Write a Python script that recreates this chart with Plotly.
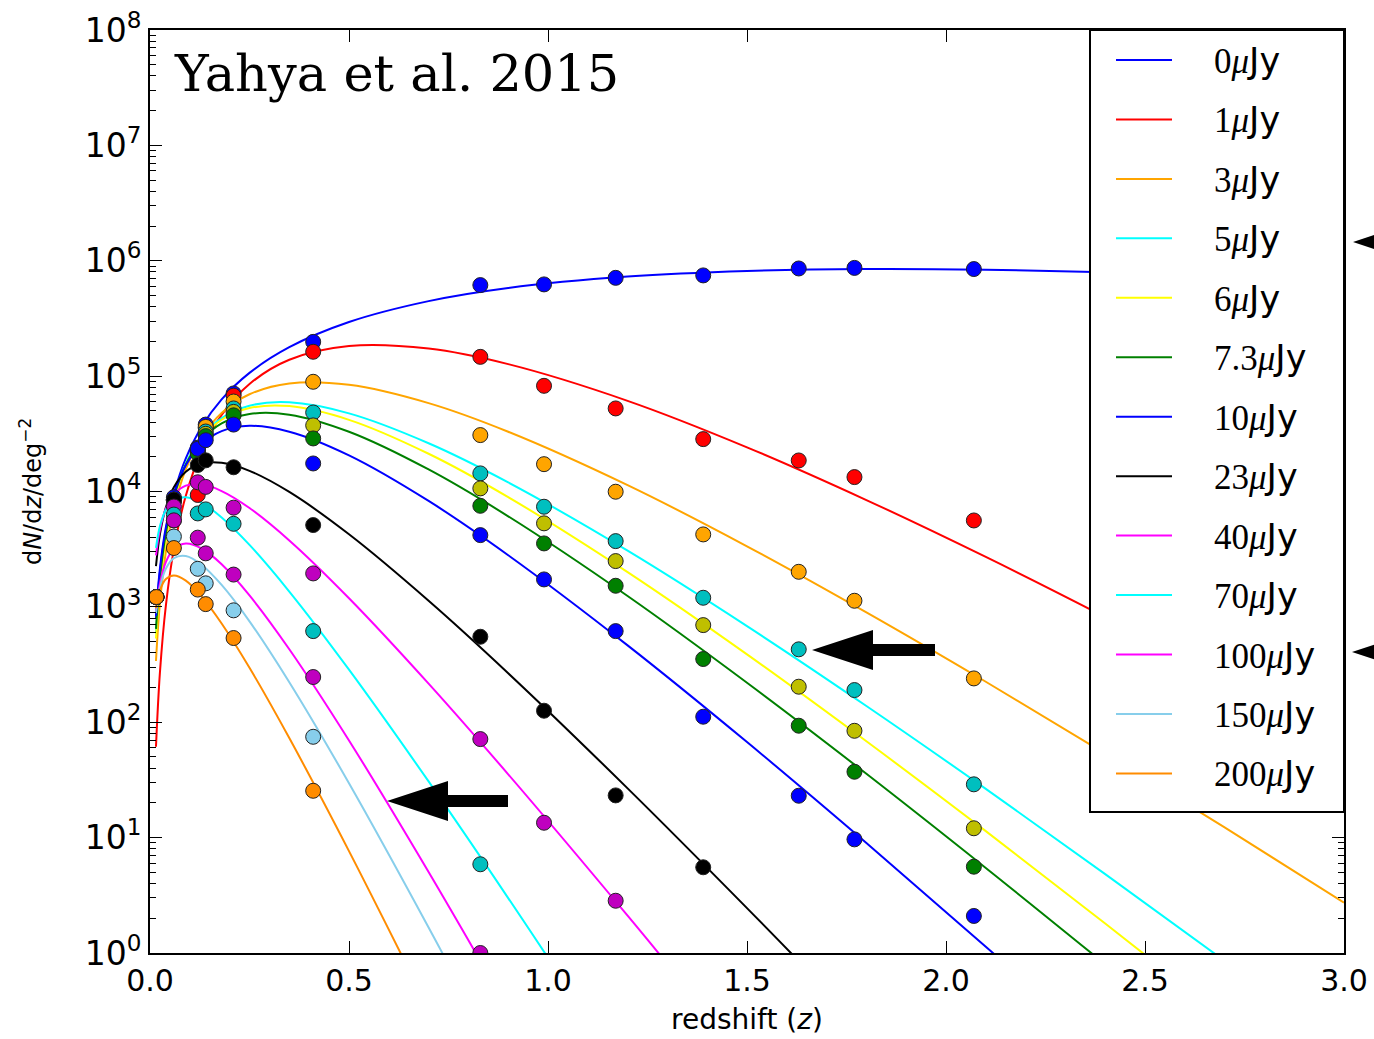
import plotly.graph_objects as go

# ---------------- data ----------------
labels = ["0", "1", "3", "5", "6", "7.3", "10", "23", "40", "70", "100", "150", "200"]
line_colors = ["#0000ff", "#ff0000", "#ffa500", "#00ffff", "#ffff00", "#008000", "#0000ff",
               "#000000", "#ff00ff", "#00ffff", "#ff00ff", "#87ceeb", "#ff8c00"]
dot_colors = ["#0000ff", "#ff0000", "#ffa500", "#00bfbf", "#bfbf00", "#008000", "#0000ff",
              "#000000", "#bf00bf", "#00bfbf", "#bf00bf", "#87ceeb", "#ff8c00"]

# simulation points (log10 dN/dz), redshift bins
z_bins = [0.016, 0.06, 0.12, 0.14, 0.21, 0.41, 0.83, 0.99, 1.17, 1.39, 1.63, 1.77, 2.07]
dots_0 = [3.085, 3.95, 4.38, 4.58, 4.85, 5.297, 5.789, 5.795, 5.852, 5.873, 5.933, 5.938, 5.928]
dots_1 = [3.085, 3.75, 3.97, 4.55, 4.83, 5.211, 5.167, 4.916, 4.720, 4.454, 4.269, 4.125, 3.749]
dots_3 = [3.085, 3.92, 4.36, 4.56, 4.78, 4.951, 4.489, 4.237, 3.998, 3.628, 3.304, 3.053, 2.380]
dots_5 = [3.085, 3.93, 4.35, 4.52, 4.72, 4.685, 4.157, 3.868, 3.570, 3.079, 2.632, 2.279, 1.462]
dots_6 = [3.085, 3.92, 4.34, 4.50, 4.69, 4.573, 4.027, 3.724, 3.397, 2.842, 2.308, 1.926, 1.081]
dots_7p3 = [3.085, 3.92, 4.33, 4.48, 4.66, 4.460, 3.876, 3.550, 3.183, 2.548, 1.970, 1.571, 0.748]
dots_10 = [3.085, 3.93, 4.37, 4.445, 4.58, 4.243, 3.622, 3.238, 2.790, 2.048, 1.363, 0.985, 0.321]
dots_23 = [3.085, 3.93, 4.23, 4.27, 4.21, 3.709, 2.741, 2.100, 1.366, 0.743]
dots_40 = [3.085, 3.87, 4.08, 4.04, 3.86, 3.290, 1.854, 1.129, 0.453]
dots_70 = [3.085, 3.80, 3.81, 3.845, 3.72, 2.790, 0.769]
dots_100 = [3.085, 3.75, 3.60, 3.464, 3.28, 2.392, 0.0]
dots_150 = [3.085, 3.61, 3.33, 3.204, 2.97, 1.874]
dots_200 = [3.085, 3.51, 3.15, 3.024, 2.73, 1.406]

# fitted curves (log10 dN/dz) read at these redshifts
z_curve = [0.015, 0.025, 0.04, 0.06, 0.09, 0.13, 0.18, 0.25, 0.35, 0.5, 0.7, 0.9,
           1.2, 1.5, 1.8, 2.1, 2.4, 2.7, 3.0]
curve_0 = [2.904, 3.304, 3.669, 3.981, 4.288, 4.562, 4.798, 5.028, 5.251, 5.469, 5.650, 5.764,
           5.863, 5.912, 5.929, 5.923, 5.901, 5.866, 5.822]
curve_1 = [1.787, 2.434, 3.016, 3.501, 3.963, 4.353, 4.664, 4.932, 5.142, 5.261, 5.239, 5.104,
           4.786, 4.383, 3.926, 3.433, 2.912, 2.371, 1.813]
curve_3 = [2.531, 3.034, 3.482, 3.850, 4.193, 4.471, 4.681, 4.843, 4.937, 4.925, 4.766, 4.518,
           4.055, 3.525, 2.952, 2.351, 1.728, 1.089, 0.437]
curve_5 = [2.769, 3.221, 3.621, 3.946, 4.242, 4.473, 4.636, 4.744, 4.773, 4.677, 4.418, 4.079,
           3.487, 2.833, 2.141, 1.423, 0.684, -0.068]
curve_6 = [2.726, 3.190, 3.599, 3.930, 4.229, 4.461, 4.622, 4.723, 4.740, 4.621, 4.327, 3.951,
           3.301, 2.588, 1.835, 1.056, 0.256, -0.559]
curve_7p3 = [2.809, 3.252, 3.641, 3.954, 4.234, 4.448, 4.591, 4.672, 4.666, 4.518, 4.191, 3.785,
             3.094, 2.342, 1.553, 0.737, -0.098]
curve_10 = [2.922, 3.334, 3.692, 3.977, 4.228, 4.411, 4.523, 4.569, 4.518, 4.313, 3.918, 3.448,
            2.666, 1.828, 0.954, 0.055, -0.861]
curve_23 = [3.353, 3.631, 3.864, 4.038, 4.172, 4.243, 4.249, 4.179, 3.996, 3.629, 3.053, 2.425,
            1.427, 0.389, -0.674]
curve_40 = [3.446, 3.671, 3.851, 3.974, 4.051, 4.062, 4.004, 3.857, 3.576, 3.075, 2.335, 1.549,
            0.323, -0.938]
curve_70 = [3.511, 3.700, 3.842, 3.924, 3.950, 3.901, 3.775, 3.537, 3.133, 2.456, 1.487, 0.476,
            -1.083]
curve_100 = [2.957, 3.203, 3.390, 3.504, 3.550, 3.506, 3.369, 3.099, 2.633, 1.842, 0.702, -0.489]
curve_150 = [2.946, 3.169, 3.332, 3.422, 3.440, 3.363, 3.190, 2.875, 2.347, 1.471, 0.221, -1.077]
curve_200 = [2.989, 3.144, 3.242, 3.273, 3.228, 3.089, 2.856, 2.472, 1.863, 0.883, -0.487]

all_dots = [dots_0, dots_1, dots_3, dots_5, dots_6, dots_7p3, dots_10, dots_23, dots_40,
            dots_70, dots_100, dots_150, dots_200]
all_curves = [curve_0, curve_1, curve_3, curve_5, curve_6, curve_7p3, curve_10, curve_23,
              curve_40, curve_70, curve_100, curve_150, curve_200]

x_ticks = [0.0, 0.5, 1.0, 1.5, 2.0, 2.5, 3.0]
y_tick_exponents = [0, 1, 2, 3, 4, 5, 6, 7, 8]

# ---------------- layout geometry ----------------
W, H = 1374, 1039
L, R, T, B = 150, 1344, 30, 953


def px(x):
    return (x - L) / (R - L)


def py(y):
    return (B - y) / (B - T)


fig = go.Figure()

for lab, col, cv in zip(labels, line_colors, all_curves):
    zz = z_curve[:len(cv)]
    fig.add_trace(go.Scatter(
        x=zz, y=[10 ** v for v in cv], mode="lines",
        line=dict(color=col, width=2, shape="spline", smoothing=1.0),
        name=lab + "μJy", showlegend=False, hoverinfo="skip"))

for lab, col, dv in zip(labels, dot_colors, all_dots):
    zz = z_bins[:len(dv)]
    fig.add_trace(go.Scatter(
        x=zz, y=[10 ** v for v in dv], mode="markers",
        marker=dict(color=col, size=15, line=dict(color="#222222", width=1)),
        name=lab + "μJy points", showlegend=False))

shapes = []
annotations = []

# legend box (drawn by hand)
shapes.append(dict(type="rect", xref="paper", yref="paper",
                   x0=px(1090), x1=px(1344), y0=py(812), y1=py(30),
                   fillcolor="white", line=dict(color="black", width=2), layer="above"))
row0, step = 60.0, 59.45
for i, (lab, col) in enumerate(zip(labels, line_colors)):
    yy = row0 + i * step
    shapes.append(dict(type="line", xref="paper", yref="paper",
                       x0=px(1116), x1=px(1172), y0=py(yy), y1=py(yy),
                       line=dict(color=col, width=2), layer="above"))
    annotations.append(dict(
        xref="paper", yref="paper", x=px(1212), y=py(yy + 1), xanchor="left", yanchor="middle",
        showarrow=False,
        text="<span style='font-family:Liberation Serif'>" + lab + "<i>μ</i></span>Jy",
        font=dict(family="DejaVu Sans", size=35, color="black")))


def arrow_path(tx, ty, head_len, head_half, shaft_end, shaft_half):
    pts = [(tx, ty), (tx + head_len, ty - head_half), (tx + head_len, ty - shaft_half),
           (shaft_end, ty - shaft_half), (shaft_end, ty + shaft_half),
           (tx + head_len, ty + shaft_half), (tx + head_len, ty + head_half)]
    s = "M " + " L ".join(f"{px(a):.5f},{py(b):.5f}" for a, b in pts) + " Z"
    return s


for tx, ty, sx in [(812, 650, 935), (387, 801, 508), (1353, 242, 1420), (1352, 652, 1420)]:
    shapes.append(dict(type="path", xref="paper", yref="paper",
                       path=arrow_path(tx, ty, 61, 20, sx, 6),
                       fillcolor="black", line=dict(color="black", width=0), layer="above"))

annotations.append(dict(xref="paper", yref="paper", x=px(172), y=py(74), xanchor="left",
                        yanchor="middle", showarrow=False, text="Yahya et al. 2015",
                        font=dict(family="DejaVu Serif", size=51, color="black")))

fig.update_layout(
    width=W, height=H,
    margin=dict(l=L, r=W - R, t=T, b=H - B, pad=0, autoexpand=False),
    plot_bgcolor="white", paper_bgcolor="white",
    shapes=shapes, annotations=annotations,
    showlegend=False,
    font=dict(family="DejaVu Sans", color="black"),
)

fig.update_xaxes(
    range=[0, 3], tickvals=x_ticks, ticktext=[f"{v:.1f}" for v in x_ticks],
    ticks="inside", ticklen=12, tickwidth=1, tickcolor="black",
    showline=True, linewidth=2, linecolor="black", mirror="allticks",
    showgrid=False, zeroline=False, automargin=False,
    tickfont=dict(family="DejaVu Sans", size=30, color="black"),
    title=dict(text="redshift (<i>z</i>)", font=dict(family="DejaVu Sans", size=28),
               standoff=12),
)
fig.update_yaxes(
    type="log", range=[0, 8],
    tickvals=[10 ** e for e in y_tick_exponents],
    ticktext=[f"10<sup>{e}</sup>" for e in y_tick_exponents],
    ticks="inside", ticklen=12, tickwidth=1, tickcolor="black",
    minor=dict(ticks="inside", ticklen=6, tickwidth=1, tickcolor="black", dtick="D1",
               showgrid=False),
    showline=True, linewidth=2, linecolor="black", mirror="allticks",
    showgrid=False, zeroline=False, automargin=False,
    tickfont=dict(family="DejaVu Sans", size=33, color="black"),
    title=dict(text="d<i>N</i>/d<i>z</i>/deg<sup>−2</sup>",
               font=dict(family="DejaVu Sans", size=24), standoff=36),
)

fig.write_html("out.html")
